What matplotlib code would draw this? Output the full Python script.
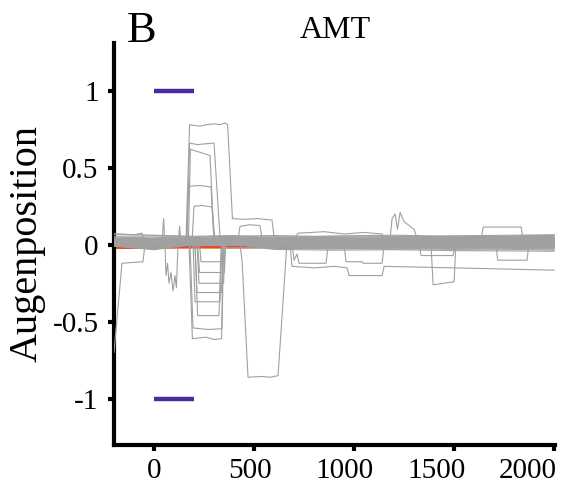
import matplotlib
matplotlib.use("Agg")
import matplotlib.pyplot as plt
from matplotlib.transforms import ScaledTranslation

plt.rcParams['font.family'] = ['Liberation Serif', 'DejaVu Serif']

# ---------------- data ----------------
x_ticks = [0, 500, 1000, 1500, 2000]
y_ticks = [-1, -0.5, 0, 0.5, 1]
y_tick_labels = ['-1', '-0.5', '0', '0.5', '1']

stim_t = [0, 200]
stim_upper = [1, 1]
stim_lower = [-1, -1]

# mean trace (red)
red_t = [-200, 0, 200, 400, 600, 900, 1200, 1500, 1800, 2000]
red_y = [-0.018, -0.016, -0.015, -0.015, -0.013, -0.012, -0.010, -0.010, -0.006, -0.008]

# dense band of individual traces around zero
band_t = [-200, 0, 200, 400, 600, 900, 1200, 1500, 1800, 2000]
b01 = [0.045, 0.050, 0.040, 0.048, 0.052, 0.047, 0.055, 0.050, 0.058, 0.060]
b02 = [0.030, 0.035, 0.028, 0.040, 0.036, 0.030, 0.038, 0.042, 0.045, 0.048]
b03 = [0.020, 0.018, 0.025, 0.030, 0.022, 0.028, 0.020, 0.030, 0.035, 0.032]
b04 = [0.010, 0.012, 0.015, 0.020, 0.012, 0.015, 0.018, 0.020, 0.025, 0.028]
b05 = [0.000, 0.005, 0.010, 0.012, 0.005, 0.008, 0.002, 0.010, 0.015, 0.012]
b06 = [-0.004, -0.005, 0.005, 0.008, -0.005, 0.000, -0.008, 0.000, 0.005, 0.000]
b07 = [-0.006, -0.015, 0.002, 0.004, -0.015, -0.010, -0.018, -0.012, -0.010, -0.015]
b08 = [-0.008, -0.028, 0.004, 0.002, -0.025, -0.022, -0.028, -0.025, -0.030, -0.035]
b09 = [0.038, 0.042, 0.035, 0.045, 0.040, 0.038, 0.045, 0.048, 0.050, 0.055]
b10 = [0.025, 0.028, 0.030, 0.035, 0.028, 0.022, 0.030, 0.025, 0.032, 0.038]
b11 = [0.015, 0.022, 0.018, 0.025, 0.018, 0.012, 0.025, 0.015, 0.020, 0.022]
b12 = [0.005, -0.002, 0.012, 0.015, 0.000, 0.005, 0.010, 0.005, 0.008, 0.005]
b13 = [-0.002, -0.010, 0.008, 0.005, -0.010, -0.005, -0.002, -0.008, -0.002, -0.005]
b14 = [-0.005, -0.020, 0.003, 0.006, -0.020, -0.028, -0.022, -0.030, -0.025, -0.028]
b15 = [0.055, 0.058, 0.050, 0.055, 0.060, 0.052, 0.048, 0.058, 0.062, 0.065]
b16 = [0.035, 0.030, 0.045, 0.038, 0.030, 0.040, 0.035, 0.035, 0.040, 0.042]
b17 = [0.018, 0.025, 0.022, 0.028, 0.020, 0.018, 0.012, 0.022, 0.028, 0.020]
b18 = [0.002, 0.008, 0.002, 0.018, 0.008, -0.002, 0.005, -0.005, 0.000, 0.008]
b19 = [-0.003, -0.022, 0.006, 0.010, -0.008, -0.015, -0.012, -0.018, -0.020, -0.022]
b20 = [-0.009, -0.032, 0.001, 0.003, -0.030, -0.035, -0.032, -0.038, -0.040, -0.042]
b21 = [0.070, 0.062, 0.055, 0.060, 0.045, 0.058, 0.062, 0.055, 0.052, 0.058]
b22 = [0.042, 0.038, 0.048, 0.052, 0.042, 0.045, 0.040, 0.045, 0.048, 0.045]
b23 = [0.028, 0.020, 0.038, 0.032, 0.025, 0.035, 0.028, 0.038, 0.030, 0.035]
b24 = [0.008, 0.015, 0.020, 0.025, 0.015, 0.020, 0.012, 0.015, 0.018, 0.018]
band_rows = [b01, b02, b03, b04, b05, b06, b07, b08, b09, b10, b11, b12,
             b13, b14, b15, b16, b17, b18, b19, b20, b21, b22, b23, b24]

# individual traces with excursions, (time ms, position) knots
up_a = [(-200, 0.02), (0, 0.03), (160, 0.03), (178, 0.78), (200, 0.775), (230, 0.77),
        (265, 0.78), (300, 0.785), (330, 0.78), (355, 0.79), (368, 0.78), (392, 0.17),
        (450, 0.165), (520, 0.17), (590, 0.16), (600, 0.05), (900, 0.04), (1400, 0.03),
        (2000, 0.04)]
up_b = [(-200, 0.0), (165, 0.01), (178, 0.66), (220, 0.65), (250, 0.655), (300, 0.66),
        (330, 0.05), (500, 0.02), (2000, 0.02)]
up_c = [(-200, 0.01), (172, 0.01), (182, 0.62), (230, 0.60), (280, 0.58), (300, 0.03),
        (2000, 0.01)]
up_d = [(-200, 0.0), (162, 0.0), (172, 0.38), (230, 0.385), (285, 0.375), (300, 0.02),
        (2000, 0.015)]
up_e = [(-200, 0.02), (190, 0.02), (200, 0.25), (240, 0.255), (290, 0.245), (305, 0.02),
        (2000, 0.03)]
up_g = [(-200, 0.03), (420, 0.035), (430, 0.12), (480, 0.13), (530, 0.125), (540, 0.04),
        (2000, 0.035)]

dn_a = [(-200, 0.0), (430, 0.0), (440, -0.10), (470, -0.86), (540, -0.855),
        (580, -0.86), (620, -0.85), (663, -0.02), (2000, -0.01)]
dn_b = [(-200, 0.0), (175, 0.0), (192, -0.61), (260, -0.60), (300, -0.615), (338, -0.61),
        (345, 0.0), (2000, 0.0)]
dn_c = [(-200, 0.01), (180, 0.01), (195, -0.54), (270, -0.55), (340, -0.545), (348, 0.01),
        (2000, 0.01)]
dn_d = [(-200, 0.0), (205, 0.0), (218, -0.46), (325, -0.46), (335, -0.02), (2000, -0.02)]
dn_e = [(-200, 0.02), (195, 0.02), (205, -0.37), (330, -0.37), (340, 0.02), (2000, 0.02)]
dn_f = [(-200, 0.0), (205, 0.0), (215, -0.31), (338, -0.31), (345, 0.0), (2000, 0.0)]
dn_g = [(-200, 0.01), (215, 0.01), (225, -0.25), (348, -0.25), (355, 0.01), (2000, 0.01)]
dn_h = [(-200, 0.0), (218, 0.0), (228, -0.18), (352, -0.18), (358, 0.0), (2000, -0.01)]
dn_i = [(-200, 0.0), (228, 0.0), (235, -0.11), (345, -0.11), (350, 0.0), (2000, 0.0)]

noisy = [(-200, 0.01), (40, 0.01), (48, 0.17), (55, 0.0), (60, -0.20), (68, -0.12),
         (75, -0.25), (85, -0.18), (95, -0.30), (105, -0.20), (112, -0.28), (120, 0.0),
         (128, 0.12), (135, 0.0), (2000, 0.0)]
left_dip = [(-200, -0.70), (-160, -0.12), (-55, -0.11), (-45, 0.0), (700, 0.0), (2000, -0.02)]
pre_high = [(-200, 0.07), (-100, 0.065), (-60, 0.075), (-50, 0.04), (2000, 0.04)]

late_a = [(-200, 0.0), (690, 0.0), (700, -0.10), (715, -0.06), (725, -0.12), (860, -0.12),
          (870, 0.0), (2000, 0.0)]
late_b = [(-200, 0.0), (680, 0.0), (690, -0.14), (800, -0.15), (900, -0.14), (965, -0.15),
          (975, -0.20), (1140, -0.20), (1150, -0.14), (1500, -0.15), (2000, -0.165)]
late_c = [(-200, 0.0), (950, 0.0), (960, -0.11), (1040, -0.11), (1045, -0.12), (1140, -0.12),
          (1150, 0.0), (2000, 0.0)]
late_d = [(-200, 0.04), (700, 0.04), (720, 0.075), (850, 0.085), (950, 0.07), (1050, 0.08),
          (1140, 0.07), (1150, 0.04), (2000, 0.04)]
spike = [(-200, 0.01), (1178, 0.01), (1190, 0.17), (1205, 0.20), (1217, 0.10), (1230, 0.21),
         (1250, 0.15), (1300, 0.10), (1320, 0.02), (2000, 0.02)]
late_e = [(-200, 0.0), (1385, -0.01), (1395, -0.26), (1500, -0.24), (1508, -0.01), (2000, -0.01)]
late_f = [(-200, 0.03), (1635, 0.03), (1645, 0.115), (1835, 0.115), (1845, 0.03), (2000, 0.03)]
late_g = [(-200, 0.0), (1710, -0.01), (1718, -0.10), (1865, -0.10), (1872, -0.01), (2000, -0.01)]
late_h = [(-200, 0.0), (1325, 0.0), (1335, -0.07), (1495, -0.07), (1505, 0.0), (2000, 0.0)]

traces = [up_a, up_b, up_c, up_d, up_e, up_g, dn_a, dn_b, dn_c, dn_d, dn_e, dn_f, dn_g,
          dn_h, dn_i, noisy, left_dip, pre_high, late_a, late_b, late_c, late_d, spike,
          late_e, late_f, late_g, late_h]

# ---------------- plot ----------------
gray = '#a0a0a0'
red = '#e64c1e'
purple = '#4b2c9b'

fig = plt.figure(figsize=(5.62, 5.0), dpi=100)
ax = fig.add_axes([0.2028, 0.11, 0.785, 0.804])

ax.plot(red_t, red_y, color=red, lw=2.2, zorder=2)
for row in band_rows:
    ax.plot(band_t, row, color=gray, lw=0.8, zorder=3)
for tr in traces:
    t, y = zip(*tr)
    ax.plot(t, y, color=gray, lw=0.8, zorder=3)

ax.plot(stim_t, stim_upper, color=purple, lw=3.2, solid_capstyle='butt', zorder=4)
ax.plot(stim_t, stim_lower, color=purple, lw=3.2, solid_capstyle='butt', zorder=4)

ax.set_xlim(-200, 2005)
ax.set_ylim(-1.3, 1.31)
ax.set_xticks(x_ticks)
ax.set_xticklabels([str(v) for v in x_ticks])
ax.set_yticks(y_ticks)
ax.set_yticklabels(y_tick_labels)

for s in ['top', 'right']:
    ax.spines[s].set_visible(False)
for s in ['left', 'bottom']:
    ax.spines[s].set_linewidth(3)
    ax.spines[s].set_color('black')

ax.tick_params(axis='both', direction='out', length=4, width=3, labelsize=21)
ax.tick_params(axis='x', pad=5)
ax.tick_params(axis='y', pad=7)

# the reference places the later x labels progressively further left
x_label_shift_px = [0, -4, -10, -18, -26]
for lab, dx in zip(ax.get_xticklabels(), x_label_shift_px):
    lab.set_transform(lab.get_transform() + ScaledTranslation(dx / 100, 0, fig.dpi_scale_trans))

fig.text(0.048, 0.512, 'Augenposition', rotation=90, ha='center', va='center', fontsize=29)
fig.text(0.596, 0.924, 'AMT', ha='center', va='baseline', fontsize=23)
fig.text(0.252, 0.916, 'B', ha='center', va='baseline', fontsize=32)

fig.savefig('out.png', dpi=100)
